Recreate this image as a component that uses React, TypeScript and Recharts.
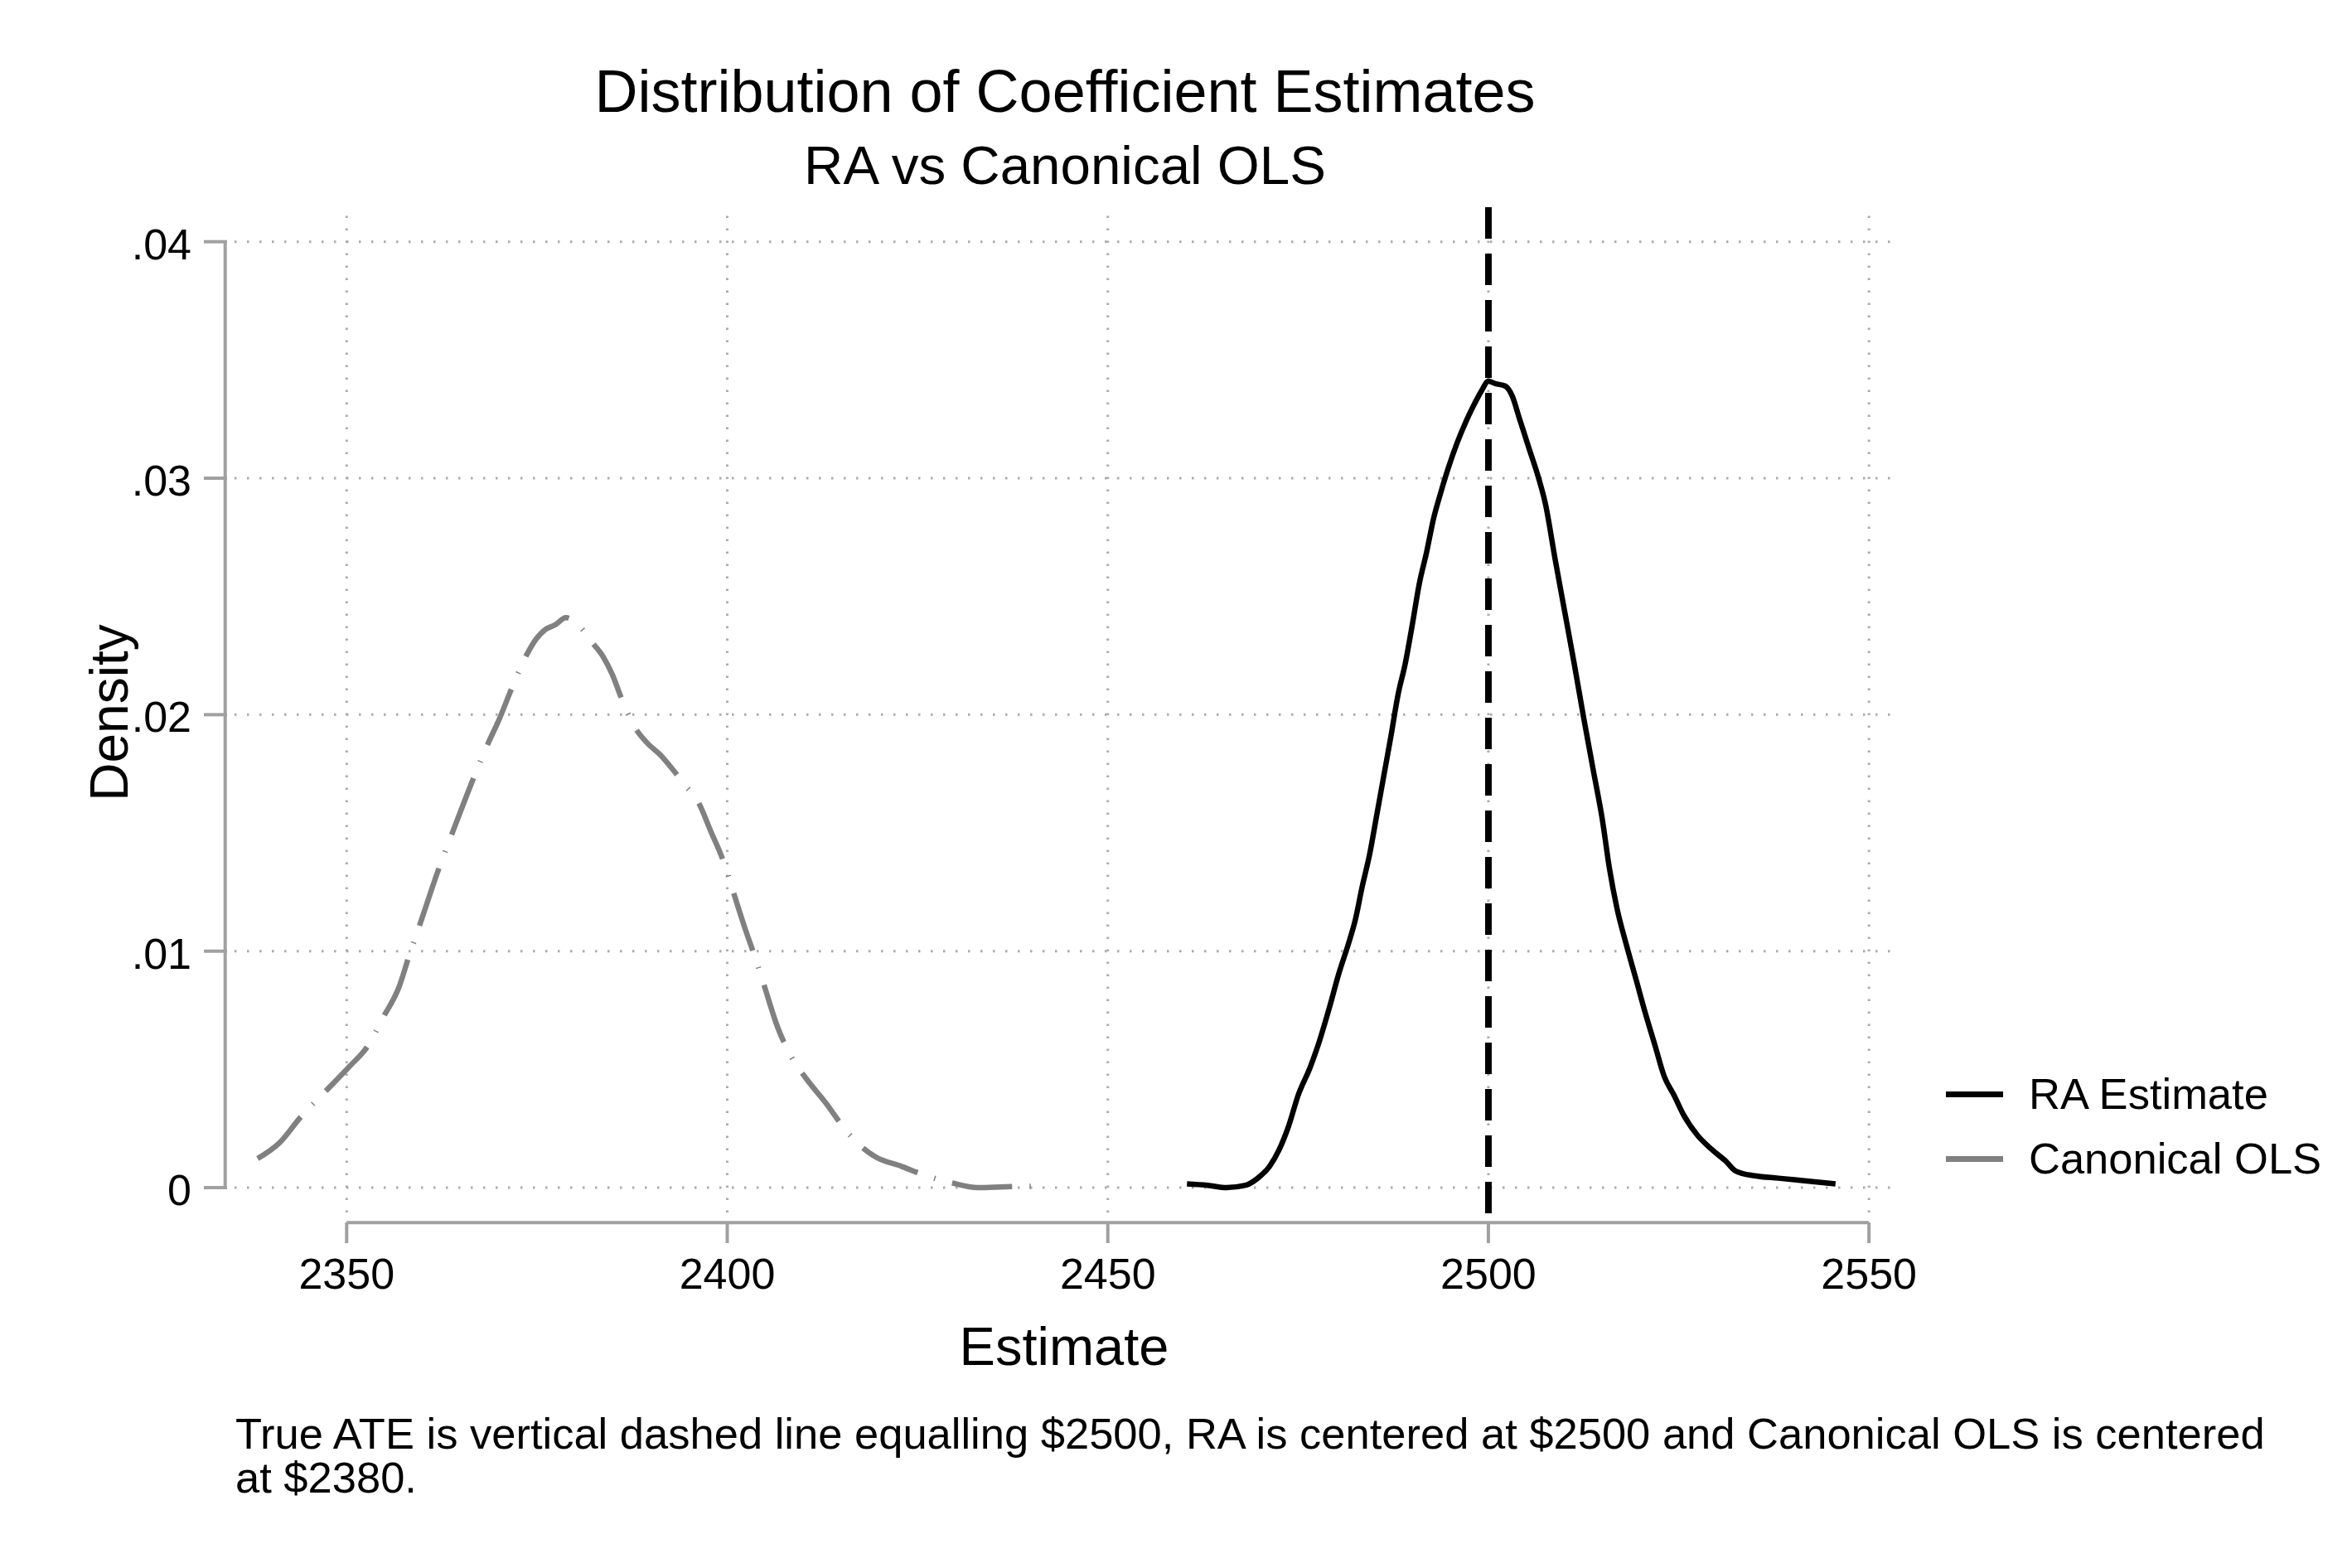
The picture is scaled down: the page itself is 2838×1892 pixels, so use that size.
import React from 'react';
import {
  LineChart, Line, XAxis, YAxis, ReferenceLine,
} from 'recharts';

const FONT = '"Liberation Sans", Arial, Helvetica, sans-serif';
const AXIS_GRAY = '#a0a0a0';
const GRID_GRAY = '#ababab';

// kernel density of the RA estimates (black, solid)
const raPoints: [number, number][] = [
  [2460.4, 0.00016], [2463.1, 0.0001], [2465.6, 0.0], [2468.1, 0.0001],
  [2469.7, 0.0004], [2471.25, 0.0009], [2472.5, 0.0016], [2473.75, 0.0026],
  [2475.0, 0.0039], [2476.6, 0.0051], [2477.8, 0.0062], [2479.1, 0.0076],
  [2480.3, 0.009], [2481.6, 0.0103], [2482.5, 0.0113], [2483.4, 0.0127],
  [2484.4, 0.0141], [2485.3, 0.0157], [2486.25, 0.0174], [2487.2, 0.0191],
  [2488.1, 0.0208], [2489.1, 0.0222], [2490.0, 0.0238], [2490.9, 0.0255],
  [2491.9, 0.0269], [2492.8, 0.0283], [2493.75, 0.0294], [2494.7, 0.0304],
  [2495.9, 0.0315], [2497.2, 0.0325], [2498.1, 0.0331], [2499.1, 0.0337],
  [2500.0, 0.0341], [2500.9, 0.034], [2502.2, 0.0339], [2503.1, 0.0335],
  [2504.1, 0.0325], [2505.3, 0.0313], [2506.6, 0.03], [2507.5, 0.0289],
  [2508.75, 0.0266], [2510.0, 0.0244], [2511.25, 0.0222], [2512.5, 0.0199],
  [2513.75, 0.0177], [2515.0, 0.0155], [2515.9, 0.0135], [2516.9, 0.0118],
  [2518.1, 0.0103], [2519.4, 0.0088], [2520.6, 0.0074], [2521.9, 0.006],
  [2523.1, 0.0047], [2524.4, 0.0039], [2525.6, 0.0031], [2527.5, 0.0022],
  [2529.4, 0.0016], [2531.25, 0.0011], [2532.5, 0.0007], [2535.0, 0.0005],
  [2538.1, 0.0004], [2541.25, 0.0003], [2545.6, 0.00016],
];

// kernel density of the canonical OLS estimates (gray, long dash dot)
const olsPoints: [number, number][] = [
  [2338.3, 0.00123], [2341.1, 0.00187], [2344.0, 0.003], [2347.3, 0.0041],
  [2350.3, 0.0051], [2352.8, 0.006], [2354.8, 0.0072], [2356.9, 0.0085],
  [2358.2, 0.0098], [2359.8, 0.0113], [2361.9, 0.0133], [2364.0, 0.0151],
  [2366.9, 0.0175], [2368.6, 0.0188], [2369.9, 0.0197], [2371.8, 0.0212],
  [2373.6, 0.0225], [2374.9, 0.0232], [2376.1, 0.0236], [2377.4, 0.0238],
  [2378.8, 0.0241], [2380.7, 0.0237], [2382.4, 0.023], [2383.6, 0.0225],
  [2384.9, 0.0217], [2386.1, 0.0207], [2387.8, 0.0195], [2389.5, 0.0188],
  [2391.2, 0.0183], [2392.8, 0.0177], [2394.5, 0.017], [2396.2, 0.0163],
  [2397.8, 0.0151], [2399.5, 0.0138], [2400.8, 0.0125], [2402.4, 0.0109],
  [2403.7, 0.0097], [2404.9, 0.0085], [2406.6, 0.0068], [2408.3, 0.0056],
  [2410.4, 0.0046], [2412.9, 0.0036], [2415.4, 0.0025], [2417.4, 0.0018],
  [2419.5, 0.0013], [2422.9, 0.0009], [2426.2, 0.0005], [2429.5, 0.0002],
  [2432.9, 0.0], [2436.6, 0.00004], [2441.2, 0.00006],
];

const xTicks = [2350, 2400, 2450, 2500, 2550];
const yTicks = [0, 0.01, 0.02, 0.03, 0.04];
const yTickLabels = ['0', '.01', '.02', '.03', '.04'];
const trueAte = 2500;

const seriesNames = ['RA Estimate', 'Canonical OLS'];
const seriesColors = ['#000000', '#808080'];

const raData = raPoints.map(([x, y]) => ({ x, y }));
const olsData = olsPoints.map(([x, y]) => ({ x, y }));

// Stata-style axes sit a little outside the plot region
const X_DOMAIN: [number, number] = [2335.27, 2553.9];
const Y_DOMAIN: [number, number] = [-0.00105, 0.04118];
const X_AXIS_AT = -0.00148;
const Y_AXIS_AT = 2334.04;
const XLINE_TOP = 0.04146;

function XTick(props: any) {
  const { x, y, payload } = props;
  return (
    <g>
      <line x1={x} x2={x} y1={y + 12} y2={y + 37} stroke={AXIS_GRAY} strokeWidth={4} />
      <text x={x} y={y + 92} textAnchor="middle" fontSize={52} fill="#000" fontFamily={FONT}>
        {payload.value}
      </text>
    </g>
  );
}

function YTick(props: any) {
  const { x, y, payload } = props;
  const label = yTickLabels[yTicks.indexOf(payload.value)] ?? String(payload.value);
  return (
    <g>
      <line x1={x - 37} x2={x - 9} y1={y} y2={y} stroke={AXIS_GRAY} strokeWidth={4} />
      <text x={x - 52} y={y + 21} textAnchor="end" fontSize={52} fill="#000" fontFamily={FONT}>
        {label}
      </text>
    </g>
  );
}

export default function App() {
  return (
    <div style={{ position: 'absolute', left: 0, top: 0, width: 2838, height: 1892, background: '#fff', fontFamily: FONT, color: '#000' }}>
      <LineChart
        width={2838}
        height={1892}
        margin={{ top: 258, right: 547, bottom: 279, left: 83 }}
      >
        <XAxis
          type="number"
          dataKey="x"
          domain={X_DOMAIN}
          ticks={xTicks}
          allowDataOverflow
          interval={0}
          axisLine={false}
          tickLine={false}
          tickSize={0}
          tickMargin={0}
          height={150}
          tick={<XTick />}
        />
        <YAxis
          type="number"
          dataKey="y"
          domain={Y_DOMAIN}
          ticks={yTicks}
          allowDataOverflow
          interval={0}
          axisLine={false}
          tickLine={false}
          tickSize={0}
          tickMargin={0}
          width={200}
          tick={<YTick />}
        />
        {yTicks.map((t) => (
          <ReferenceLine key={`gy${t}`} y={t} stroke={GRID_GRAY} strokeWidth={3} strokeDasharray="2.5 12.5" />
        ))}
        {xTicks.map((t) => (
          <ReferenceLine key={`gx${t}`} x={t} stroke={GRID_GRAY} strokeWidth={3} strokeDasharray="2.5 12.5" />
        ))}
        <ReferenceLine
          segment={[{ x: xTicks[0], y: X_AXIS_AT }, { x: xTicks[xTicks.length - 1], y: X_AXIS_AT }]}
          stroke={AXIS_GRAY}
          strokeWidth={4}
          ifOverflow="visible"
        />
        <ReferenceLine
          segment={[{ x: Y_AXIS_AT, y: yTicks[0] }, { x: Y_AXIS_AT, y: yTicks[yTicks.length - 1] }]}
          stroke={AXIS_GRAY}
          strokeWidth={4}
          ifOverflow="visible"
        />
        <Line
          data={raData}
          dataKey="y"
          name={seriesNames[0]}
          type="monotone"
          stroke={seriesColors[0]}
          strokeWidth={6.5}
          dot={false}
          activeDot={false}
          isAnimationActive={false}
        />
        <Line
          data={olsData}
          dataKey="y"
          name={seriesNames[1]}
          type="monotone"
          stroke={seriesColors[1]}
          strokeWidth={6.5}
          strokeDasharray="73 21 1.5 21"
          dot={false}
          activeDot={false}
          isAnimationActive={false}
        />
        <ReferenceLine
          segment={[{ x: trueAte, y: XLINE_TOP }, { x: trueAte, y: X_AXIS_AT }]}
          stroke="#000"
          strokeWidth={8}
          strokeDasharray="38 18"
          ifOverflow="visible"
        />
      </LineChart>

      <div style={{ position: 'absolute', left: 0, width: 2570, top: 74, fontSize: 72, lineHeight: '72px', textAlign: 'center', whiteSpace: 'nowrap' }}>
        Distribution of Coefficient Estimates
      </div>
      <div style={{ position: 'absolute', left: 0, width: 2570, top: 167, fontSize: 65.5, lineHeight: '65.5px', textAlign: 'center', whiteSpace: 'nowrap' }}>
        RA vs Canonical OLS
      </div>
      <div style={{ position: 'absolute', left: 0, width: 2568, top: 1592, fontSize: 65, lineHeight: '65px', textAlign: 'center', whiteSpace: 'nowrap' }}>
        Estimate
      </div>
      <div style={{ position: 'absolute', left: -68, top: 828, width: 400, height: 64, fontSize: 64, lineHeight: '64px', textAlign: 'center', transform: 'rotate(-90deg)', whiteSpace: 'nowrap' }}>
        Density
      </div>

      <div style={{ position: 'absolute', left: 2348, top: 1281 }}>
        {seriesNames.map((name, i) => (
          <div key={name} style={{ display: 'flex', alignItems: 'center', height: 78 }}>
            <span style={{ display: 'inline-block', width: 69, height: 7, background: seriesColors[i], marginRight: 31 }} />
            <span style={{ fontSize: 52.5, lineHeight: '52.5px', whiteSpace: 'nowrap' }}>{name}</span>
          </div>
        ))}
      </div>

      <div style={{ position: 'absolute', left: 284, top: 1704, fontSize: 52.5, lineHeight: '52.7px', whiteSpace: 'nowrap' }}>
        True ATE is vertical dashed line equalling $2500, RA is centered at $2500 and Canonical OLS is centered
        <br />
        at $2380.
      </div>
    </div>
  );
}
